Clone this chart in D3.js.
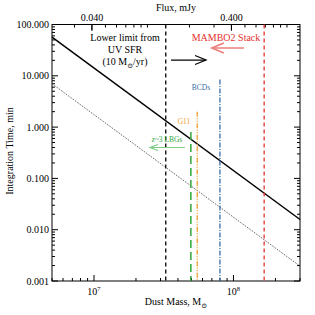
<!DOCTYPE html>
<html lang="en">
<head>
<meta charset="utf-8">
<title>Integration time vs dust mass</title>
<script src="https://d3js.org/d3.v7.min.js"></script>
<style>
  body { margin: 0; background: #fff; }
  text { font-family: "Liberation Serif", "DejaVu Serif", serif; }
  .axis path, .axis line { stroke: #000; }
</style>
</head>
<body>
<svg width="315" height="315"></svg>
<script>
// ---- data ----
var massEnds = [5e6, 3e8];            // dust mass, Msun (x domain)
var timeLimit = [57, 0.0158];         // solid line, minutes
var timeDeep = [7.0, 0.00195];        // dotted line, minutes
var fluxEnds = [0.0207, 1.24];        // top axis, mJy
var yTicks = [100, 10, 1, 0.1, 0.01, 0.001];
var fluxTicks = [0.04, 0.4];

var markerNames = ["uv", "mambo", "lbg", "g11", "bcd"];
var markerMass = [3.27e7, 1.66e8, 4.95e7, 5.5e7, 8.0e7];
var markerTop = [100, 100, 0.8, 2.0, 8.5];

// arrows: [from mass, to mass, at time]
var arrowUV = [3.57e7, 6.36e7, 20.3];
var arrowMambo = [1.19e8, 7.0e7, 34.8];
var arrowLbg = [4.49e7, 2.52e7, 0.40];

var svg = d3.select("svg");
var pL = 52, pR = 300, pT = 24.5, pB = 281;

var x = d3.scaleLog().domain(massEnds).range([pL, pR]);
var xf = d3.scaleLog().domain(fluxEnds).range([pL, pR]);
var y = d3.scaleLog().domain([0.001, 100]).range([pB, pT]);

var styles = {
  uv:    {color: "#000000", dash: "4,3", w: 1.3},
  mambo: {color: "#e5302c", dash: "4,3", w: 1.3},
  lbg:   {color: "#2ea83a", dash: "8,4", w: 1.5},
  g11:   {color: "#f29b2c", dash: "5,1.5,1,1.5,1,1.5", w: 1.3},
  bcd:   {color: "#3a6ea5", dash: "5,1.5,1,1.5", w: 1.3}
};

// minor tick helpers
function logMinor(scale) {
  var d = scale.domain(), out = [];
  var lo = Math.floor(Math.log10(d[0])), hi = Math.ceil(Math.log10(d[1]));
  for (var e = lo; e <= hi; e++) {
    for (var k = 1; k < 10; k++) {
      var v = k * Math.pow(10, e);
      if (v >= d[0] * 0.999 && v <= d[1] * 1.001) out.push(v);
    }
  }
  return out;
}
function isDecade(v) {
  return Math.abs(Math.log10(v) - Math.round(Math.log10(v))) < 1e-6;
}

var axes = svg.append("g").attr("class", "axis");

// frame
axes.append("rect").attr("x", pL).attr("y", pT)
  .attr("width", pR - pL).attr("height", pB - pT)
  .attr("fill", "none").attr("stroke", "#000").attr("stroke-width", 1);

// bottom mass ticks
logMinor(x).forEach(function(v) {
  var len = isDecade(v) ? 6 : 3;
  axes.append("line").attr("x1", x(v)).attr("x2", x(v))
    .attr("y1", pB).attr("y2", pB - len);
});
[1e7, 1e8].forEach(function(v) {
  var t = svg.append("text").attr("x", x(v)).attr("y", 295)
    .attr("text-anchor", "middle").attr("font-size", 10);
  t.append("tspan").text("10");
  t.append("tspan").attr("font-size", 6.5).attr("dy", -4).text(Math.log10(v));
});

// top flux ticks
logMinor(xf).forEach(function(v) {
  var major = fluxTicks.some(function(f) { return Math.abs(f - v) < 1e-9; });
  axes.append("line").attr("x1", xf(v)).attr("x2", xf(v))
    .attr("y1", pT).attr("y2", pT + (major ? 6 : 3));
});
fluxTicks.forEach(function(v) {
  axes.append("line").attr("x1", xf(v)).attr("x2", xf(v))
    .attr("y1", pT).attr("y2", pT + 6);
  svg.append("text").attr("x", xf(v)).attr("y", 21)
    .attr("text-anchor", "middle").attr("font-size", 10)
    .text(d3.format(".3f")(v));
});

// y ticks left and right
logMinor(y).forEach(function(v) {
  var len = isDecade(v) ? 6 : 3;
  axes.append("line").attr("x1", pL).attr("x2", pL + len)
    .attr("y1", y(v)).attr("y2", y(v));
  axes.append("line").attr("x1", pR).attr("x2", pR - len)
    .attr("y1", y(v)).attr("y2", y(v));
});
yTicks.forEach(function(v) {
  svg.append("text").attr("x", 49).attr("y", y(v) + 3.5)
    .attr("text-anchor", "end").attr("font-size", 10)
    .text(d3.format(".3f")(v));
});

// axis titles
svg.append("text").attr("x", 176).attr("y", 11)
  .attr("text-anchor", "middle").attr("font-size", 10).text("Flux, mJy");
var xt = svg.append("text").attr("x", 176).attr("y", 305)
  .attr("text-anchor", "middle").attr("font-size", 10);
xt.append("tspan").text("Dust Mass, M");
xt.append("tspan").attr("font-size", 7).attr("dy", 2.5).text("\u2299");
svg.append("text").attr("transform", "translate(13,151) rotate(-90)")
  .attr("text-anchor", "middle").attr("font-size", 10).text("Integration Time, min");

// plot lines
var line = d3.line().x(function(d) { return x(d[0]); }).y(function(d) { return y(d[1]); });
svg.append("path").datum(d3.zip(massEnds, timeDeep)).attr("d", line)
  .attr("fill", "none").attr("stroke", "#444").attr("stroke-width", 1)
  .attr("stroke-dasharray", "1,1.2");
svg.append("path").datum(d3.zip(massEnds, timeLimit)).attr("d", line)
  .attr("fill", "none").attr("stroke", "#000").attr("stroke-width", 1.5);

// vertical markers
markerNames.forEach(function(n, i) {
  var s = styles[n];
  svg.append("line").attr("x1", x(markerMass[i])).attr("x2", x(markerMass[i]))
    .attr("y1", y(markerTop[i])).attr("y2", pB)
    .attr("stroke", s.color).attr("stroke-width", s.w)
    .attr("stroke-dasharray", s.dash);
});

// arrows
function arrow(a, color, w, hl, hw) {
  var x0 = x(a[0]), x1 = x(a[1]), yy = y(a[2]);
  var dir = x1 > x0 ? -1 : 1;
  var g = svg.append("g").attr("stroke", color).attr("stroke-width", w).attr("fill", "none");
  g.append("line").attr("x1", x0).attr("x2", x1).attr("y1", yy).attr("y2", yy);
  g.append("path").attr("d", "M" + (x1 + dir * hl) + "," + (yy - hw) + "L" + x1 + "," + yy +
    "L" + (x1 + dir * hl) + "," + (yy + hw));
}
arrow(arrowUV, "#000", 1.2, 11, 4.5);
arrow(arrowMambo, "#ec7f7c", 1.6, 12, 5);
arrow(arrowLbg, "#7fcc86", 1.2, 8, 3);

// annotations
svg.append("text").attr("x", 125).attr("y", 41).attr("text-anchor", "middle")
  .attr("font-size", 10).text("Lower limit from");
svg.append("text").attr("x", 125).attr("y", 53).attr("text-anchor", "middle")
  .attr("font-size", 10).text("UV SFR");
var sfr = svg.append("text").attr("x", 125).attr("y", 65).attr("text-anchor", "middle")
  .attr("font-size", 10);
sfr.append("tspan").text("(10 M");
sfr.append("tspan").attr("font-size", 7).attr("dy", 2.5).text("\u2299");
sfr.append("tspan").attr("dy", -2.5).text("/yr)");

svg.append("text").attr("x", 226).attr("y", 41).attr("text-anchor", "middle")
  .attr("font-size", 10).attr("fill", styles.mambo.color).text("MAMBO2 Stack");
svg.append("text").attr("x", 201).attr("y", 90).attr("text-anchor", "middle")
  .attr("font-size", 7.5).attr("fill", styles.bcd.color).text("BCDs");
svg.append("text").attr("x", 184).attr("y", 124).attr("text-anchor", "middle")
  .attr("font-size", 7.5).attr("fill", styles.g11.color).text("G11");
var lbg = svg.append("text").attr("x", 167).attr("y", 142).attr("text-anchor", "middle")
  .attr("font-size", 7.5).attr("fill", styles.lbg.color);
lbg.append("tspan").attr("font-style", "italic").text("z");
lbg.append("tspan").text("~3 LBGs");
</script>
</body>
</html>
